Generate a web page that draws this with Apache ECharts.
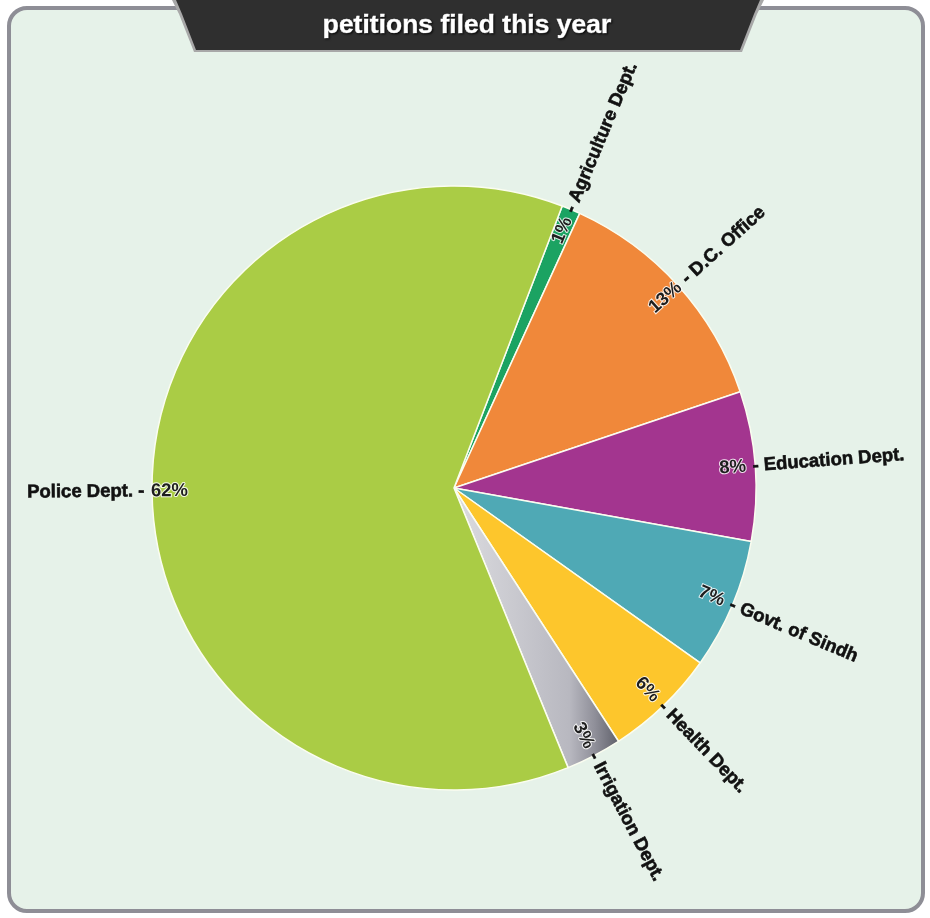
<!DOCTYPE html>
<html><head><meta charset="utf-8">
<script src="https://cdn.jsdelivr.net/npm/echarts@6/dist/echarts.min.js"></script>
<style>html,body{margin:0;padding:0;background:#ffffff;} #chart{width:930px;height:918px;}</style>
</head><body><div id="chart"></div>
<script>
const categories = ['Agriculture Dept.', 'D.C. Office', 'Education Dept.', 'Govt. of Sindh', 'Health Dept.', 'Irrigation Dept.', 'Police Dept.'];
const values = [1, 13, 8, 7, 6, 3, 62];
const sliceColors = ['#1ba362', '#f0883a', '#a3358f', '#4fa9b5', '#fdc62c', 'GRADIENT', '#aacc45'];
const titleText = 'petitions filed this year';

const FONT = '"Liberation Sans", Arial, sans-serif';

const chart = echarts.init(document.getElementById('chart'), null, {renderer: 'canvas'});

const irrigationGradient = {
  type: 'linear', x: 0, y: 0, x2: 1, y2: 0,
  colorStops: [
    {offset: 0, color: '#dcdce0'},
    {offset: 0.7, color: '#b8b8c0'},
    {offset: 0.85, color: '#90909a'},
    {offset: 1, color: '#5e5f69'}
  ]
};

const data = categories.map((name, i) => {
  const item = {
    name: name,
    value: values[i],
    itemStyle: {color: sliceColors[i] === 'GRADIENT' ? irrigationGradient : sliceColors[i]}
  };
  if (name === 'Police Dept.') {
    item.label = {formatter: '{n|{b} -}  {p|{d}%}'};
  }
  return item;
});

const option = {
  backgroundColor: '#ffffff',
  animation: false,
  graphic: [
    {
      type: 'rect', z: 0,
      shape: {x: 9, y: 8, width: 914, height: 903, r: 18},
      style: {fill: '#e6f2e9', stroke: '#8e8e96', lineWidth: 4}
    },
    {
      type: 'polygon', z: 10,
      shape: {points: [[172, 0], [764, 0], [757, 14], [742, 52], [194, 52], [179, 14]]},
      style: {fill: '#a8a8a8'}
    },
    {
      type: 'polygon', z: 11,
      shape: {points: [[176, 0], [760, 0], [754, 14], [740, 50], [196, 50], [182, 14]]},
      style: {fill: '#2f2f2f'}
    },
    {
      type: 'text', z: 12,
      x: 467, y: 26,
      style: {
        text: titleText,
        fill: '#ffffff',
        font: 'bold 26.5px ' + FONT,
        align: 'center',
        verticalAlign: 'middle',
        stroke: '#ffffff',
        lineWidth: 0.6,
        textShadowColor: 'rgba(0,0,0,0.8)',
        textShadowBlur: 2,
        textShadowOffsetX: 1,
        textShadowOffsetY: 1
      }
    }
  ],
  series: [{
    type: 'pie',
    center: [454, 488],
    radius: 302,
    startAngle: 69,
    clockwise: true,
    percentPrecision: 0,
    avoidLabelOverlap: false,
    z: 5,
    itemStyle: {borderColor: '#fbfdf0', borderWidth: 1.5},
    label: {
      show: true,
      position: 'outside',
      rotate: 'radial',
      distanceToLabelLine: 0,
      formatter: '{p|{d}%}  {n|- {b}}',
      rich: {
        p: {
          fontFamily: FONT, fontWeight: 'bold', fontSize: 18.5, color: '#1e1e1e',
          textBorderColor: 'rgba(255,255,255,0.85)', textBorderWidth: 2
        },
        n: {
          fontFamily: FONT, fontWeight: 'bold', fontSize: 18.5, color: '#111111',
          textBorderColor: '#111111', textBorderWidth: 0.6
        }
      }
    },
    labelLine: {show: false, length: -36, length2: 0},
    emphasis: {disabled: true},
    data: data
  }]
};
chart.setOption(option);
</script>
</body></html>
